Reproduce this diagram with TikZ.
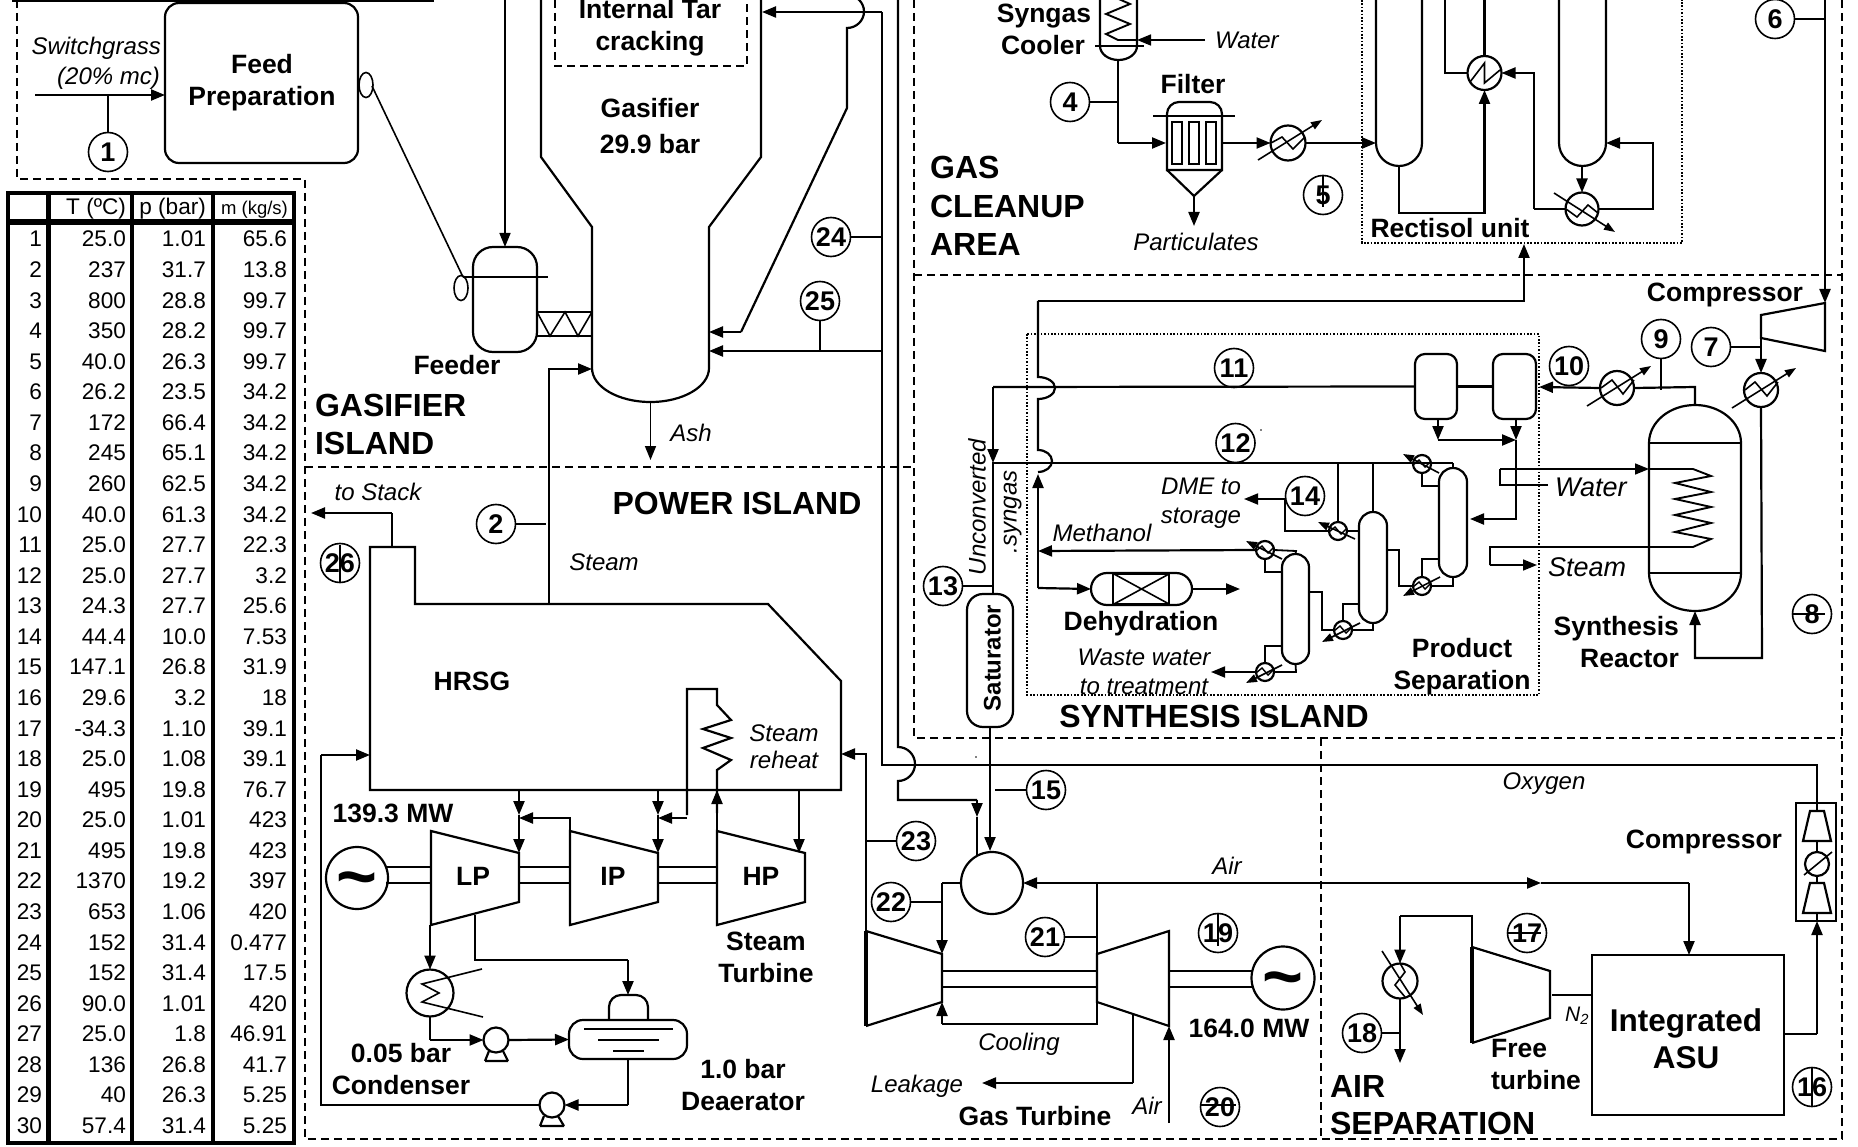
\documentclass[tikz,border=0pt]{standalone}
\usepackage{fontspec}
\setmainfont{Liberation Sans}
\usetikzlibrary{arrows.meta,shapes.geometric}
\newcommand\fsz[1]{\fontsize{#1}{#1}\selectfont}
\tikzset{
 txtb/.style={font=\fsz{26.5}\bfseries,inner sep=0pt,text height=19pt,text depth=0pt},
 txtB/.style={font=\fsz{32}\bfseries,inner sep=0pt,text height=23pt,text depth=0pt},
 txti/.style={font=\fsz{24}\itshape,inner sep=0pt,text height=17pt,text depth=0pt},
 txtw/.style={font=\fsz{27}\itshape,inner sep=0pt,text height=19pt,text depth=0pt},
 tbl/.style={font=\fsz{22.6},inner sep=0pt,text height=16pt,text depth=0pt,anchor=east},
 tagnode/.style={draw,circle,line width=1.6pt,minimum size=39pt,inner sep=0pt,font=\fsz{27}\bfseries,text height=19.5pt,text depth=0pt},
 lead/.style={line width=1.8pt},
 zone/.style={line width=1.8pt,dash pattern=on 8pt off 5pt},
 dots/.style={line width=1.6pt,dash pattern=on 1.7pt off 1.7pt},
 eq/.style={draw,inner sep=0pt,outer sep=0pt},
 sa/.style={-{Triangle[length=11pt,width=8pt]},line width=1.6pt},
 thk/.style={line width=3.2pt},
 fin/.style={line width=1.6pt},
}
\newcommand\eqbox[6]{%
 \pgfmathsetmacro\wv{#4-#2}\pgfmathsetmacro\hv{#5-#3}\pgfmathsetmacro\cxv{(#2+#4)/2}\pgfmathsetmacro\cyv{(#3+#5)/2}%
 \node[eq,rounded corners=#6pt,minimum width=\wv pt,minimum height=\hv pt] (#1) at (\cxv,\cyv) {};}
\newcommand\eqcirc[4]{%
 \pgfmathsetmacro\dv{2*#4}%
 \node[eq,circle,minimum size=\dv pt] (#1) at (#2,#3) {};}
\newcommand\tagn[3]{\node[tagnode] (t#1) at (#2,#3) {#1};}
\begin{document}
\begin{tikzpicture}[x=1pt,y=-1pt,line width=2.2pt,>={Triangle[length=14pt,width=11pt]}]
\useasboundingbox (0,0) rectangle (1858,1147);
\clip (0,0) rectangle (1858,1147);
\fill[white] (0,0) rectangle (1858,1147);

% zones
\draw[zone] (17,0) -- (17,179) -- (305,179) -- (305,1139) -- (1842,1139) -- (1842,0);
\draw[zone] (305,467) -- (914,467);
\draw[zone] (914,0) -- (914,738) -- (1842,738);
\draw[zone] (914,275) -- (1842,275);
\draw[zone] (1321,738) -- (1321,1139);
\draw[line width=1.8pt] (12,1) -- (434,1);
\draw[dots] (1362,0) -- (1362,243) -- (1682,243) -- (1682,0);
\draw[dots] (1027,334) rectangle (1539,695);

% table
\draw[line width=4.5pt] (8,193) rectangle (294,1143);
\foreach \xx in {48.5,132,213} \draw[line width=4.5pt] (\xx,193) -- (\xx,1143);
\draw[line width=6pt] (8,222.5) -- (294,222.5);
\node[tbl] (hT) at (127,207) {T (ºC)};
\node[tbl] (hp) at (207,207) {p (bar)};
\node[tbl,font=\fsz{18.5}] (hm) at (289,207) {m (kg/s)};
\foreach \a/\b/\c [count=\i] in {25.0/1.01/65.6,237/31.7/13.8,800/28.8/99.7,350/28.2/99.7,40.0/26.3/99.7,26.2/23.5/34.2,172/66.4/34.2,245/65.1/34.2,260/62.5/34.2,40.0/61.3/34.2,25.0/27.7/22.3,25.0/27.7/3.2,24.3/27.7/25.6,44.4/10.0/7.53,147.1/26.8/31.9,29.6/3.2/18,-34.3/1.10/39.1,25.0/1.08/39.1,495/19.8/76.7,25.0/1.01/423,495/19.8/423,1370/19.2/397,653/1.06/420,152/31.4/0.477,152/31.4/17.5,90.0/1.01/420,25.0/1.8/46.91,136/26.8/41.7,40/26.3/5.25,57.4/31.4/5.25}{
  \pgfmathsetmacro\yy{239+(\i-1)*30.57}
  \node[tbl] (rn\i) at (43,\yy) {\i};
  \node[tbl] (ra\i) at (127,\yy) {\a};
  \node[tbl] (rb\i) at (207,\yy) {\b};
  \node[tbl] (rc\i) at (288,\yy) {\c};
}

% feed preparation
\eqbox{feed}{165}{3}{358}{163}{14}
\node[txtb] (nFeed) at (262,64) {Feed};
\node[txtb] (nPrep) at (262,96) {Preparation};
\node[txti,anchor=east] (nSw) at (162,46) {Switchgrass};
\node[txti,anchor=east] (nMc) at (161,76) {(20\% mc)};
\coordinate (swIn) at (35,95);
\draw[->] (swIn) -- (feed.west |- swIn);
\tagn{1}{108}{152}
\draw[lead] (t1) -- (108,95);
\node[eq,ellipse,fin,minimum width=14pt,minimum height=25pt] (elA) at (366,85) {};
\node[eq,ellipse,fin,minimum width=14pt,minimum height=25pt] (elB) at (461,288) {};
\draw[fin] (372,86) -- (463,277);

% feeder
\eqbox{feeder}{473}{247}{537}{352}{20}
\draw[fin] (463,277) -- (548,277);
\draw[->,fin] (505,0) -- (feeder.north);
\node[txtb] (nFeeder) at (457,365) {Feeder};
\draw (537,312) -- (592,312) (537,336) -- (592,336);
\draw[fin] (537,312) -- (550,336) -- (565,312) -- (578,336) -- (592,312);

% gasifier
\draw (541,-5) -- (541,157) -- (592,227) -- (592,368) arc[start angle=180,end angle=360,x radius=58.5pt,y radius=34pt] -- (709,227) -- (761,157) -- (761,-5);
\draw[zone] (555,0) -- (555,66) -- (747,66) -- (747,0);
\node[txtb] (nTar) at (650,9) {Internal Tar};
\node[txtb] (nCrack) at (650,41) {cracking};
\node[txtb] (nGas) at (650,108) {Gasifier};
\node[txtb] (nBar) at (650,144) {29.9 bar};
\draw[->] (882,12) -- (762,12);
\draw (882,12) -- (882,765) -- (1817,765) -- (1817,803);
\draw (847,-5) arc[start angle=90,end angle=-90,x radius=17pt,y radius=16.5pt] -- (847,108) -- (741,332);
\draw[->] (741,332) -- (709,332);
\tagn{24}{831}{237}
\draw[lead] (t24) -- (882,237);
\tagn{25}{820}{301}
\draw[lead] (t25) -- (820,351);
\draw[->] (882,351) -- (709,351);
\draw[->,fin] (650.5,402) -- (650.5,460);
\node[txti] (nAsh) at (691,433) {Ash};
\draw[->] (549,604) -- (549,369) -- (592,369);
\tagn{2}{496}{524}
\draw[lead] (t2) -- (546,524);
\node[txti] (nSteam) at (604,562) {Steam};
\node[txtB,anchor=west] (nGI1) at (314,405) {GASIFIER};
\node[txtB,anchor=west] (nGI2) at (314,443) {ISLAND};
\node[txtB] (nPI) at (737,503) {POWER ISLAND};
% line x=898
\draw (898,-5) -- (898,747) arc[start angle=90,end angle=-90,x radius=17pt,y radius=17pt] -- (898,800) -- (977,800);
\draw[->] (977,800) -- (977,817);
\draw (977,817) -- (977,855);

% gas cleanup
\node[txtB,anchor=west] (nGC1) at (929,167) {GAS};
\node[txtB,anchor=west] (nGC2) at (929,206) {CLEANUP};
\node[txtB,anchor=west] (nGC3) at (929,244) {AREA};
\node[txtb] (nSyn) at (1044,13) {Syngas};
\node[txtb] (nCool) at (1043,45) {Cooler};
\draw (1100,-5) -- (1100,46) arc[start angle=180,end angle=360,x radius=18.5pt,y radius=14pt] -- (1137,-5);
\draw[fin] (1095,46) -- (1144,46);
\node[txti,anchor=west] (nWater) at (1214,40) {Water};
\draw[->,fin] (1205,40) -- (1137,40);
\draw[line width=1.9pt] (1137,40) -- (1118,40) -- (1106,34) -- (1130,24) -- (1106,14) -- (1130,4) -- (1112,-4);
\draw (1118,60) -- (1118,143);
\draw[->] (1118,143) -- (1166,143);
\tagn{4}{1070}{102}
\draw[lead] (t4) -- (1118,102);
% filter
\draw (1167,170) [rounded corners=12pt] -- (1167,102) -- (1222,102) [sharp corners] -- (1222,170) -- cycle;
\draw (1167,170) -- (1194,196) -- (1222,170);
\draw[fin] (1153,116) -- (1235,116);
\draw (1172,122) rectangle (1182,164);
\draw (1189,122) rectangle (1199,164);
\draw (1206,122) rectangle (1216,164);
\node[txtb] (nFilter) at (1193,84) {Filter};
\draw[->] (1194,196) -- (1194,226);
\node[txti] (nPart) at (1196,242) {Particulates};
\eqcirc{hxE}{1288}{143}{17.5}
\draw[->] (1222,143) -- (hxE.west);
\draw[fin] (1271,143) -- (1282,137) -- (1293,149) -- (1305,137);
\draw[sa] (1258,160) -- (1322,120);
\draw[->] (hxE.east) -- (1376,143);
\tagn{5}{1323}{195}
\draw[fin] (1323,175) -- (1323,207);

% rectisol
\draw (1376,-5) -- (1376,143) arc[start angle=180,end angle=360,x radius=23pt,y radius=23pt] -- (1422,-5);
\draw (1559,-5) -- (1559,143) arc[start angle=180,end angle=360,x radius=23.5pt,y radius=23pt] -- (1606,-5);
\eqcirc{hxB}{1484.5}{73}{17}
\eqcirc{hxC}{1582}{209}{16.5}
\draw[->] (1399,166) -- (1399,213) -- (1484.5,213) -- (hxB.south);
\draw (1445,-5) -- (1445,73) -- (hxB.west);
\draw (1484.5,-5) -- (hxB.north);
\draw[fin] (1470,82) -- (1484.5,63) -- (1484.5,83) -- (1500,70);
\draw (hxC.west) -- (1534,209);
\draw[->] (1534,209) -- (1534,73) -- (hxB.east);
\draw[->] (1582,166) -- (hxC.north);
\draw[->] (hxC.east) -- (1653,209) -- (1653,143) -- (1606,143);
\draw[fin] (1566,209) -- (1577,217) -- (1588,205) -- (1598,213);
\draw[sa] (1554,193) -- (1615,232);
\node[txtb] (nRect) at (1450,228) {Rectisol unit};
\draw[->] (1038,301) -- (1524,301) -- (1524,244);
\tagn{6}{1775}{19}
\draw[lead] (t6) -- (1825,19);

% synthesis: compressor & reactor
\draw[->] (1825,0) -- (1825,303);
\draw (1825,303) -- (1761,315) -- (1761,338) -- (1825,351) -- cycle;
\node[txtb] (nComp1) at (1725,292) {Compressor};
\tagn{7}{1711}{347}
\draw[lead] (t7) -- (1761,347);
\eqcirc{hxG}{1761}{390}{17}
\draw[->] (1761,338) -- (hxG.north);
\draw[fin] (1745,390) -- (1755,382) -- (1767,396) -- (1778,382);
\draw[sa] (1732,408) -- (1796,368);
\draw (1649,443) arc[start angle=180,end angle=0,x radius=46pt,y radius=38pt] -- (1741,573) arc[start angle=0,end angle=-180,x radius=46pt,y radius=38pt] -- cycle;
\draw[fin] (1649,443) -- (1741,443) (1649,573) -- (1741,573);
\draw[->] (hxG.south) -- (1762,658) -- (1695,658) -- (1695,611);
\eqcirc{hxI}{1617}{388}{17}
\eqbox{sepA}{1415}{354}{1457}{419}{10}
\eqbox{sepB}{1493}{354}{1536}{419}{10}
\draw (1695,405) -- (1695,387) -- (hxI.east);
\draw[->] (hxI.west) -- (1539,387);
\draw[fin] (1601,388) -- (1612,380) -- (1623,394) -- (1634,380);
\draw[sa] (1587,406) -- (1651,366);
\tagn{9}{1661}{339}
\draw[lead] (t9) -- (1661,390);
\tagn{10}{1569}{366}
\draw (sepA.east) -- (sepB.west);
\draw[->] (1438,419) -- (1438,440);
\draw[->] (1438,440) -- (1516,440);
\draw[->] (1516,419) -- (1516,440);
\draw[->] (1516,440) -- (1516,519) -- (1470,519);
% water/steam coil
\node[txtw,anchor=west] (nWat2) at (1554,487) {Water};
\draw[fin] (1548,485) -- (1500,485) -- (1500,469);
\draw[->,fin] (1500,469) -- (1649,469);
\draw[line width=1.9pt] (1649,469) -- (1693,469) -- (1711,476) -- (1675,483) -- (1711,492) -- (1675,499) -- (1711,507) -- (1675,515) -- (1711,523) -- (1675,532) -- (1711,539) -- (1693,547) -- (1490,547) -- (1490,565);
\draw[->,fin] (1490,565) -- (1537,565);
\node[txtw,anchor=west] (nSt2) at (1547,567) {Steam};
\node[txtb,anchor=east] (nSR1) at (1680,626) {Synthesis};
\node[txtb,anchor=east] (nSR2) at (1680,658) {Reactor};
\tagn{8}{1812}{614}
\draw[fin] (1792,614) -- (1825,614);

% lines 11 / 12 and unconverted syngas
\draw (sepA.west) -- (993,387);
\draw[->] (993,387) -- (993,463);
\draw (1453,463) -- (993,463) -- (993,594);
\tagn{11}{1234}{368}
\tagn{12}{1235.5}{443}
\draw (1038,301) -- (1038,377) arc[start angle=90,end angle=-90,x radius=17pt,y radius=11pt] -- (1038,450) arc[start angle=90,end angle=-90,x radius=14pt,y radius=11pt];
\draw[->] (1038,588) -- (1038,474);
\node[txti,rotate=90] (nUnc) at (977,507) {Unconverted};
\node[txti,rotate=90] (nSg) at (1008,512) {.syngas};
\tagn{13}{943}{586}
\draw[lead] (t13) -- (993,586);
\eqbox{sat}{967}{594}{1013}{727}{16}
\node[txtb,font=\fsz{24}\bfseries,rotate=90] (nSat) at (991,658) {Saturator};
\draw (sat.south) -- (990,765);
\draw (990,765) -- (990,800);
\draw[->] (990,800) -- (990,851);
\tagn{15}{1046}{790}
\draw[lead] (t15) -- (995,790);

% dehydration
\eqbox{dehy}{1091}{573}{1192}{605}{16}
\draw[fin] (1113,573) -- (1113,605) (1169,573) -- (1169,605);
\draw[fin] (1114,574) -- (1169,604) (1114,604) -- (1169,574);
\draw[fin] (1114,574) -- (1169,574) (1114,604) -- (1169,604);
\draw[->] (1038,588) -- (dehy.west);
\draw[->] (dehy.east) -- (1240,589);
\node[txtb] (nDehy) at (1141,621) {Dehydration};
\node[txti] (nDme) at (1201,486) {DME to};
\node[txti] (nSto) at (1201,515) {storage};
\node[txti] (nMeth) at (1102,533) {Methanol};
\node[txti] (nWaste) at (1144,657) {Waste water};
\node[txti] (nTreat) at (1144,686) {to treatment};
\node[txtb] (nProd) at (1462,648) {Product};
\node[txtb] (nSepa) at (1462,680) {Separation};
\node[txtB] (nSI) at (1214,716) {SYNTHESIS ISLAND};

% columns
\eqbox{colA}{1282}{554}{1309}{664}{13.4}
\eqbox{colB}{1359}{512}{1387}{623}{13.9}
\eqbox{colC}{1439}{468}{1467}{577}{13.9}
\foreach \n/\xc/\yc in {hxT/1422/464,hxU/1422/586,hxV/1338/531,hxW/1343/630,hxX/1265/550,hxY/1265/672}{
  \eqcirc{\n}{\xc}{\yc}{9}
  \draw[line width=1.4pt] (\xc-9,\yc+1) -- (\xc-3,\yc-4) -- (\xc+3,\yc+3) -- (\xc+9,\yc-3);
}
\draw (1453,463) -- (colC.north);
\draw[line width=1.8pt] (hxT.south) -- (1422,486) -- (1439,486);
\draw[sa] (1439,473) -- (1403,454);
\draw[line width=1.8pt] (hxU.east) -- (1453,586) -- (colC.south);
\draw[line width=1.8pt] (hxU.north) -- (1422,559) -- (1439,559);
\draw[sa] (1440,577) -- (1403,596);
\draw[line width=1.8pt] (1387,550) -- (1399,550) -- (1399,586) -- (hxU.west);
\draw[line width=1.8pt] (1373,463) -- (colB.north);
\draw[line width=1.8pt] (1338,463) -- (hxV.north);
\draw[line width=1.8pt] (1359,531) -- (hxV.east);
\draw[line width=1.8pt] (hxV.west) -- (1285,531) -- (1285,499);
\draw[->,line width=1.8pt] (1285,499) -- (1244,499);
\draw[sa] (1355,539) -- (1318,522);
\tagn{14}{1305}{496}
\draw[line width=1.8pt] (hxW.east) -- (1373,630) -- (colB.south);
\draw[line width=1.8pt] (hxW.north) -- (1343,604) -- (1359,604);
\draw[line width=1.8pt] (1309,592) -- (1322,592) -- (1322,630) -- (hxW.west);
\draw[sa] (1360,623) -- (1322,642);
\draw[line width=1.8pt] (colA.north) -- (1296,551) -- (hxX.east);
\draw[->] (hxX.west) -- (1038,551);
\draw[line width=1.8pt] (hxX.south) -- (1265,572) -- (1282,572);
\draw[sa] (1282,559) -- (1246,541);
\draw[line width=1.8pt] (hxY.east) -- (1296,672) -- (colA.south);
\draw[line width=1.8pt] (hxY.north) -- (1265,646) -- (1282,646);
\draw[->,line width=1.8pt] (hxY.west) -- (1211,672);
\draw[sa] (1282,665) -- (1246,683);

% HRSG
\draw (370,790) -- (370,547) -- (415,547) -- (415,604) -- (768,604) -- (841,681) -- (841,790) -- cycle;
\node[txti] (nStack) at (378,492) {to Stack};
\draw (392,547) -- (392,513);
\draw[->] (392,513) -- (311,513);
\tagn{26}{340}{563}
\draw[fin] (340,545) -- (340,582);
\node[txtb] (nHRSG) at (472,681) {HRSG};
\node[txti] (nSr1) at (784,733) {Steam};
\node[txti] (nSr2) at (784,760) {reheat};
\draw (687,815) -- (687,689) -- (717,689) -- (717,705) -- (731,720) -- (703,729) -- (731,738) -- (703,748) -- (731,760) -- (717,770) -- (717,813);
\draw[->] (717,831) -- (717,790);
\draw[->] (687,818) -- (658,818);
% steam turbines
\draw (431,831) -- (519,853) -- (519,902) -- (431,925) -- cycle;
\draw (570,831) -- (658,853) -- (658,902) -- (570,925) -- cycle;
\draw (717,831) -- (805,853) -- (805,902) -- (717,925) -- cycle;
\node[txtb] (nLP) at (473,876) {LP};
\node[txtb] (nIP) at (613,876) {IP};
\node[txtb] (nHP) at (761,876) {HP};
\eqcirc{genA}{357}{878}{31}
\node[font=\fsz{70}\bfseries,inner sep=0pt] (tilA) at (357,886) {\textasciitilde};
\draw (386,867) -- (431,867) (386,883) -- (431,883);
\draw (519,867) -- (570,867) (519,883) -- (570,883);
\draw (658,867) -- (717,867) (658,883) -- (717,883);
\draw[->] (519,790) -- (519,815);
\draw[->] (519,815) -- (519,853);
\draw[->] (570,831) -- (570,818) -- (519,818);
\draw[->] (658,790) -- (658,815);
\draw[->] (658,815) -- (658,853);
\draw[->] (799,790) -- (799,853);
\node[txtb] (nMW1) at (393,813) {139.3 MW};
\node[txtb] (nST1) at (766,941) {Steam};
\node[txtb] (nST2) at (766,973) {Turbine};
% condenser & deaerator
\eqcirc{cond}{430}{993}{23.5}
\draw[->] (430,925) -- (cond.north);
\draw (475,915) -- (475,960) -- (628,960);
\draw[->] (628,960) -- (628,995);
\draw[fin] (482,969) -- (422,984) -- (439,993) -- (422,1002) -- (483,1017);
\eqcirc{pmpA}{496}{1040}{12.5}
\eqcirc{pmpB}{552}{1105}{12.5}
\draw (cond.south) -- (430,1040);
\draw[->] (430,1040) -- (pmpA.west);
\draw (485,1061) -- (489,1051) (503,1051) -- (508,1061) (485,1061) -- (508,1061);
\eqbox{deaer}{569}{1020}{687}{1059}{14}
\draw[->] (pmpA.east) -- (deaer.west);
\draw[rounded corners=12pt] (609,1020) -- (609,995) -- (648,995) -- (648,1020);
\draw[fin] (584,1029) -- (673,1029) (598,1040) -- (659,1040) (613,1051) -- (644,1051);
\draw (628,1059) -- (628,1105);
\draw[->] (628,1105) -- (pmpB.east);
\draw (540,1126) -- (544,1116) (558,1116) -- (564,1126) (540,1126) -- (564,1126);
\draw (pmpB.west) -- (321,1105) -- (321,755);
\draw[->] (321,755) -- (370,755);
\node[txtb] (nB1) at (401,1053) {0.05 bar};
\node[txtb] (nB2) at (401,1085) {Condenser};
\node[txtb] (nB3) at (743,1069) {1.0 bar};
\node[txtb] (nB4) at (743,1101) {Deaerator};

% gas turbine
\eqcirc{comb}{992}{883}{31}
\draw[->] (866,931) -- (866,754) -- (841,754);
\tagn{23}{916}{841}
\draw[lead] (t23) -- (866,841);
\tagn{22}{891}{902}
\draw[lead] (t22) -- (942,902);
\draw (comb.west) -- (942,883);
\draw[->] (942,883) -- (942,954);
\draw (866,931) -- (942,954) -- (942,1002) -- (866,1026);
\draw[thk] (866,931) -- (866,1026);
\draw (1097,954) -- (1169,931) -- (1169,1026) -- (1097,1002) -- cycle;
\draw (942,971) -- (1097,971) (942,987) -- (1097,987);
\eqcirc{genB}{1283}{978}{31.5}
\node[font=\fsz{70}\bfseries,inner sep=0pt] (tilB) at (1283,986) {\textasciitilde};
\draw (1169,971) -- (genB.west |- 0,971) (1169,987) -- (genB.west |- 0,987);
\draw (1097,883) -- (1097,954);
\tagn{21}{1045}{937}
\draw[lead] (t21) -- (1097,937);
\draw (1097,1002) -- (1097,1024) -- (942,1024);
\draw[->] (942,1024) -- (942,1002);
\node[txti] (nCool2) at (1019,1042) {Cooling};
\draw (1133,1015) -- (1133,1083);
\draw[->] (1133,1083) -- (982,1083);
\node[txti] (nLeak) at (917,1084) {Leakage};
\node[txtb] (nGT) at (1035,1116) {Gas Turbine};
\node[txti] (nAir1) at (1147,1106) {Air};
\draw[->] (1169,1123) -- (1169,1026);
\tagn{19}{1218}{933}
\draw[fin] (1218,913) -- (1218,946);
\tagn{20}{1220}{1107}
\draw[fin] (1200,1105) -- (1236,1105);
\node[txtb] (nMW2) at (1249,1028) {164.0 MW};
\node[txti] (nAir2) at (1227,866) {Air};
\draw[->] (1097,883) -- (comb.east);
\draw[->] (1097,883) -- (1541,883);
\draw (1541,883) -- (1689,883);

% ASU
\eqbox{asu}{1592}{955}{1784}{1115}{0}
\draw[->] (1689,883) -- (1689,955);
\node[font=\fsz{31.5}\bfseries,inner sep=0pt,text height=23pt,text depth=0pt] (nInt) at (1686,1020) {Integrated};
\node[font=\fsz{31.5}\bfseries,inner sep=0pt,text height=23pt,text depth=0pt] (nAsu) at (1686,1057) {ASU};
\node[txti] (nOxy) at (1544,781) {Oxygen};
\node[txtb] (nComp2) at (1704,839) {Compressor};
\eqbox{cbox}{1796}{803}{1836}{921}{0}
\draw (1810,811) -- (1824,811) -- (1831,841) -- (1803,841) -- cycle;
\draw (1810,883) -- (1824,883) -- (1831,913) -- (1803,913) -- cycle;
\eqcirc{cmpO}{1817}{864}{12}
\draw[fin] (1804,875) -- (1832,852);
\draw (1817,803) -- (1817,811) (1817,841) -- (cmpO.north) (cmpO.south) -- (1817,883) (1817,913) -- (1817,921);
\draw (asu.east |- 0,1034) -- (1817,1034);
\draw[->] (1817,1034) -- (1817,921);
\tagn{16}{1812}{1087}
\draw[fin] (1812,1067) -- (1812,1107);
\draw (1472,947) -- (1550,971) -- (1550,1018) -- (1472,1043);
\draw[thk] (1472,947) -- (1472,1043);
\draw (1552,995) -- (asu.west |- 0,995);
\node[font=\fsz{21}\itshape,inner sep=0pt] (nN2) at (1577,1016) {N\textsubscript{2}};
\node[txtb,anchor=west] (nFr) at (1490,1048) {Free};
\node[txtb,anchor=west] (nTu) at (1490,1080) {turbine};
\eqcirc{hxR}{1400}{981}{17.5}
\draw (1472,947) -- (1472,916) -- (1400,916);
\draw[->] (1400,916) -- (hxR.north);
\draw[fin] (1400,963) -- (1405,972) -- (1395,985) -- (1405,997);
\draw[sa] (1382,951) -- (1423,1015);
\draw[->] (hxR.south) -- (1400,1063);
\tagn{18}{1362}{1033}
\draw[lead] (t18) -- (1399,1033);
\tagn{17}{1527}{933}
\draw[fin] (1508,933) -- (1541,933);
\node[txtB,anchor=west] (nAS1) at (1329,1086) {AIR};
\node[txtB,anchor=west] (nAS2) at (1329,1123) {SEPARATION};
\fill (1261,430) circle (0.8pt);
\fill (976,757) circle (0.8pt);
\end{tikzpicture}
\end{document}
